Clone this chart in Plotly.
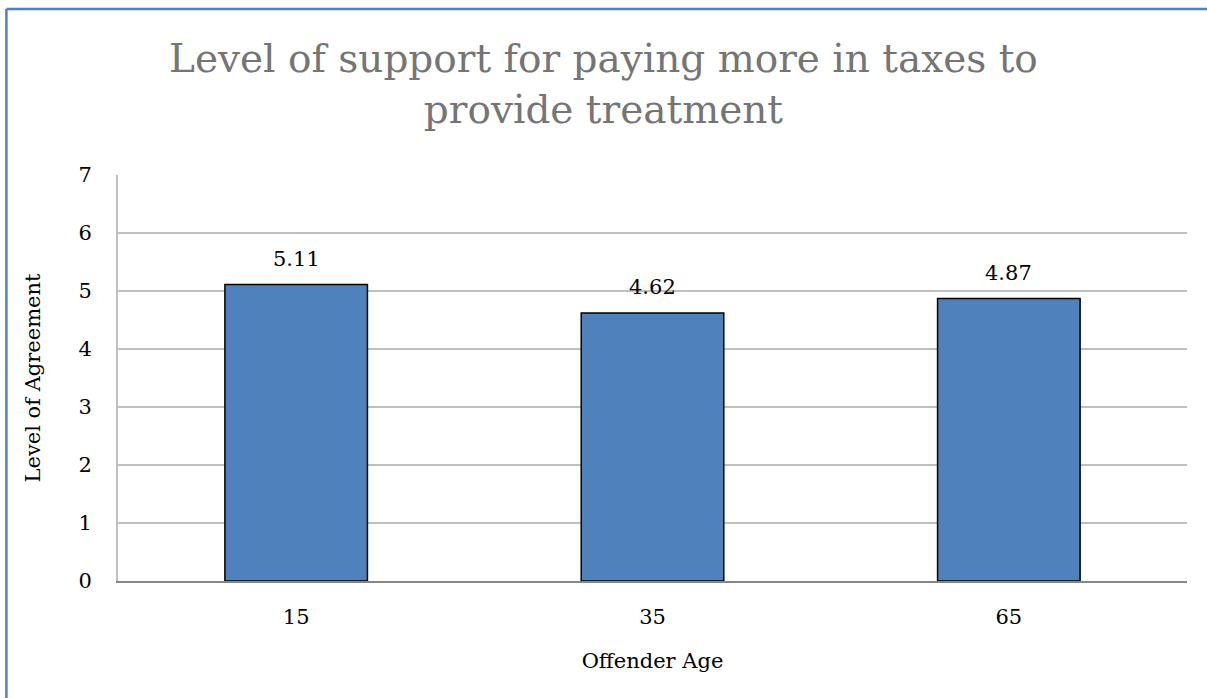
import plotly.graph_objects as go

# Offender age groups and mean agreement scores
ages = ["15", "35", "65"]
agreement = [5.11, 4.62, 4.87]
y_ticks = [0, 1, 2, 3, 4, 5, 6, 7]

SERIF = "DejaVu Serif, Liberation Serif, serif"
TICK_SIZE = 21

fig = go.Figure(
    go.Bar(
        x=ages,
        y=agreement,
        width=0.4,
        marker=dict(color="#4F81BD", line=dict(color="#000000", width=1.5)),
        hoverinfo="x+y",
    )
)

# value labels sitting above each bar (x given as category index)
annotations = [
    dict(x=i, y=v, xref="x", yref="y", text=f"{v:.2f}", showarrow=False,
         yanchor="bottom", yshift=12,
         font=dict(family=SERIF, size=TICK_SIZE, color="#000000"))
    for i, v in enumerate(agreement)
]

# two-line chart title, centred on the whole figure
annotations.append(
    dict(x=0.4537, y=1.0, xref="paper", yref="paper", xanchor="center", yanchor="bottom",
         yshift=41, showarrow=False,
         text="Level of support for paying more in taxes to<br>provide treatment",
         font=dict(family=SERIF, size=39, color="#757575"))
)

fig.update_layout(
    width=1207,
    height=698,
    margin=dict(l=118, r=20, t=175, b=117),
    paper_bgcolor="white",
    plot_bgcolor="white",
    showlegend=False,
    annotations=annotations,
    xaxis=dict(
        type="category",
        range=[-0.5, len(ages) - 0.5],
        showline=True,
        linecolor="#868686",
        linewidth=2,
        showgrid=False,
        ticks="",
        ticklabelstandoff=16,
        tickfont=dict(family=SERIF, size=TICK_SIZE, color="#000000"),
        title=dict(text="Offender Age", font=dict(family=SERIF, size=TICK_SIZE, color="#000000"), standoff=25),
    ),
    yaxis=dict(
        range=[0, 7],
        tickvals=y_ticks,
        showline=True,
        linecolor="#BFBFBF",
        linewidth=2,
        showgrid=True,
        gridcolor="#BFBFBF",
        gridwidth=1.5,
        zeroline=False,
        ticks="",
        ticklabelstandoff=20,
        tickfont=dict(family=SERIF, size=TICK_SIZE, color="#000000"),
        title=dict(text="Level of Agreement", font=dict(family=SERIF, size=TICK_SIZE, color="#000000"), standoff=32),
    ),
    shapes=[
        dict(type="line", xref="paper", yref="paper", x0=-0.1044, x1=-0.1044, y0=1.409, y1=-0.3,
             line=dict(color="#4F81BD", width=2.5)),
        dict(type="line", xref="paper", yref="paper", x0=-0.1044, x1=1.1, y0=1.409, y1=1.409,
             line=dict(color="#4F81BD", width=2.5)),
    ],
)

fig.write_html("out.html")
